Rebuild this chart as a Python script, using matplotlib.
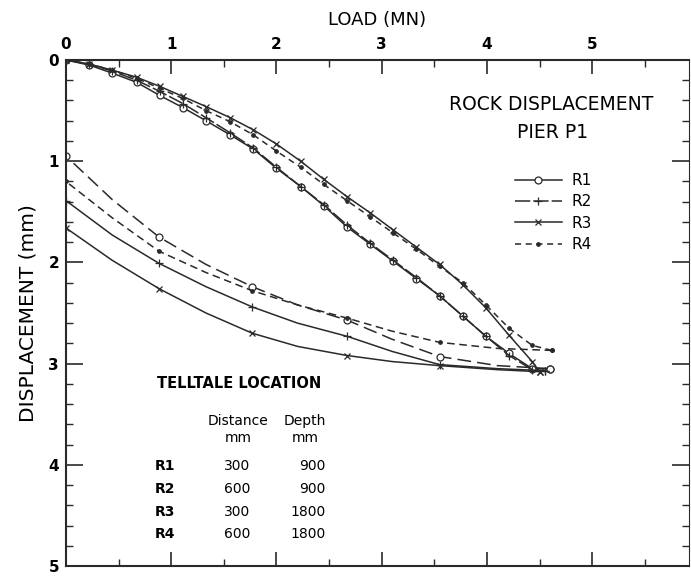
import numpy as np
import matplotlib
matplotlib.use('Agg')
import matplotlib.pyplot as plt
from matplotlib.lines import Line2D
from matplotlib.ticker import MultipleLocator

plt.rcParams['font.family'] = ['DejaVu Sans']

# loading branch (load MN, displacement mm)
load_up = [0, 0.22, 0.44, 0.67, 0.89, 1.11, 1.33, 1.56, 1.78, 2.0, 2.23,
           2.45, 2.67, 2.89, 3.11, 3.33, 3.55, 3.77, 3.99, 4.21, 4.43]
r1_up = [0, 0.05, 0.13, 0.22, 0.35, 0.47, 0.60, 0.74, 0.88, 1.07, 1.25,
         1.44, 1.65, 1.82, 1.99, 2.16, 2.33, 2.53, 2.73, 2.90, 3.05]
r2_up = [0, 0.04, 0.11, 0.20, 0.31, 0.43, 0.57, 0.72, 0.87, 1.06, 1.25,
         1.43, 1.63, 1.81, 1.98, 2.15, 2.33, 2.53, 2.73, 2.92, 3.06]
r3_up = [0, 0.04, 0.10, 0.17, 0.26, 0.36, 0.46, 0.57, 0.69, 0.83, 1.00,
         1.18, 1.35, 1.51, 1.68, 1.85, 2.02, 2.22, 2.45, 2.72, 2.98]
r4_up = [0, 0.04, 0.10, 0.18, 0.28, 0.38, 0.50, 0.61, 0.74, 0.90, 1.06,
         1.23, 1.39, 1.55, 1.71, 1.87, 2.04, 2.20, 2.42, 2.65, 2.82]
# peak points
peak_load = [4.60, 4.55, 4.50, 4.62]
peak_disp = [3.05, 3.07, 3.08, 2.87]

# unloading branch
load_down = [4.6, 4.1, 3.55, 3.1, 2.67, 2.2, 1.77, 1.33, 0.885, 0.44, 0]
r1_down = [3.05, 3.02, 2.93, 2.76, 2.57, 2.42, 2.24, 2.02, 1.75, 1.38, 0.95]
r2_down = [3.07, 3.05, 3.01, 2.88, 2.73, 2.60, 2.44, 2.24, 2.01, 1.73, 1.39]
r3_down = [3.08, 3.06, 3.02, 2.98, 2.92, 2.83, 2.70, 2.50, 2.26, 1.98, 1.66]
r4_down = [2.87, 2.85, 2.79, 2.68, 2.55, 2.42, 2.28, 2.10, 1.89, 1.56, 1.20]

names = ['R1', 'R2', 'R3', 'R4']
distance = [300, 600, 300, 600]
depth = [900, 900, 1800, 1800]

markers = ['o', '+', 'x', '.']
msizes = [5, 6, 4, 5]
up_styles = ['-', (0, (10, 2)), '-', (0, (4, 3))]
down_styles = [(0, (9, 4)), '-', '-', (0, (5, 3))]

W, H = 691, 576
fig = plt.figure(figsize=(W / 100, H / 100), dpi=100)
ax = fig.add_axes([66 / W, 10 / H, 623 / W, 506 / H])


def ftext(x, y, s, **kw):
    # place text by pixel position in the figure (top-left origin)
    fig.text(x / W, 1 - y / H, s, **kw)


ups = [r1_up, r2_up, r3_up, r4_up]
downs = [r1_down, r2_down, r3_down, r4_down]
c = '#2a2a2a'
for i in range(4):
    fc = 'white' if markers[i] == 'o' else c
    x = load_up + [peak_load[i]]
    y = ups[i] + [peak_disp[i]]
    ax.plot(x, y, color=c, lw=1.1, linestyle=up_styles[i], marker=markers[i],
            ms=msizes[i], mfc=fc, mew=0.9)
    xd = [peak_load[i]] + load_down[1:]
    ax.plot(xd, downs[i], color=c, lw=1.1, linestyle=down_styles[i],
            marker=markers[i], markevery=[0, 2, 4, 6, 8, 10], ms=msizes[i],
            mfc=fc, mew=0.9)

ax.set_xlim(0, 5.92)
ax.set_ylim(5, 0)
ax.set_xticks([0, 1, 2, 3, 4, 5])
ax.xaxis.set_minor_locator(MultipleLocator(0.5))
ax.yaxis.set_major_locator(MultipleLocator(1))
ax.yaxis.set_minor_locator(MultipleLocator(0.2))
ax.xaxis.tick_top()
ax.xaxis.set_label_position('top')
ax.tick_params(which='both', direction='in', top=True, bottom=True,
               left=True, right=True, color=c, labelsize=11)
ax.tick_params(which='major', length=10, width=1.2, pad=6)
ax.tick_params(which='minor', length=5, width=1)
ax.tick_params(axis='y', which='major', length=12, pad=5)
for lab in ax.get_xticklabels() + ax.get_yticklabels():
    lab.set_fontweight('bold')
for s in ax.spines.values():
    s.set_linewidth(1.5)
    s.set_color(c)
ax.spines['right'].set_linewidth(0.8)

ax.set_xlabel('LOAD (MN)', fontsize=13, labelpad=8.5)
ax.set_ylabel('DISPLACEMENT (mm)', fontsize=14.5, labelpad=8)

ftext(551, 105, 'ROCK DISPLACEMENT', ha='center', va='center', fontsize=13.5)
ftext(553, 133, 'PIER P1', ha='center', va='center', fontsize=13.5)

handles = [Line2D([], [], color=c, lw=1.1, linestyle=up_styles[i],
                  marker=markers[i], ms=msizes[i],
                  mfc='white' if markers[i] == 'o' else c, mew=0.9)
           for i in range(4)]
ax.legend(handles, names, loc='upper left', bbox_to_anchor=(0.708, 0.792),
          frameon=False, fontsize=11, handlelength=3.1, labelspacing=0.42,
          handletextpad=0.6, borderpad=0)

# telltale location table
ftext(157, 384, 'TELLTALE LOCATION', va='center', fontsize=10.5,
      fontweight='bold')
ftext(238, 421, 'Distance', ha='center', va='center', fontsize=10)
ftext(238, 438, 'mm', ha='center', va='center', fontsize=10)
ftext(305, 421, 'Depth', ha='center', va='center', fontsize=10)
ftext(305, 438, 'mm', ha='center', va='center', fontsize=10)
row_y = [466, 489, 512, 534]
for n, d, p, yy in zip(names, distance, depth, row_y):
    ftext(155, yy, n, va='center', fontsize=10, fontweight='bold')
    ftext(237, yy, str(d), ha='center', va='center', fontsize=10)
    ftext(326, yy, str(p), ha='right', va='center', fontsize=10)

fig.savefig('out.png', dpi=100)
